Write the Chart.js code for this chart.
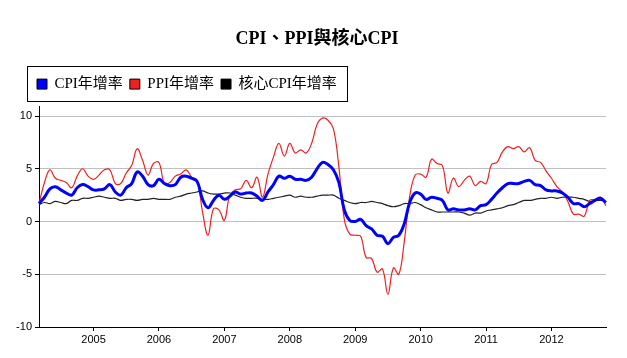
<!DOCTYPE html>
<html>
<head>
<meta charset="utf-8">
<script src="https://cdn.jsdelivr.net/npm/chart.js@4"></script>
<style>
  html, body { margin: 0; padding: 0; background: #fff; }
</style>
</head>
<body>
<canvas id="grafico" width="627" height="358"></canvas>
<script>
// meses de 2004-03 a 2012-11
var meses = [];
for (var a = 2004; a <= 2012; a++) {
    for (var m = 1; m <= 12; m++) {
        if (a === 2004 && m < 3) continue;
        if (a === 2012 && m > 11) continue;
        meses.push(a + '-' + (m < 10 ? '0' + m : m));
    }
}

// CPI年增率
var cpi = [
    1.7, 2.3, 3.1, 3.3, 3.0, 2.7, 2.5, 3.2, 3.5, 3.3,
    3.0, 3.0, 3.1, 3.5, 2.8, 2.5, 3.2, 3.6, 4.7, 4.3, 3.5, 3.4,
    4.0, 3.6, 3.4, 3.5, 4.2, 4.3, 4.1, 3.8, 2.1, 1.3, 2.0, 2.5,
    2.1, 2.4, 2.8, 2.6, 2.7, 2.7, 2.4, 2.0, 2.8, 3.5, 4.3, 4.1,
    4.3, 4.0, 4.0, 3.9, 4.2, 5.0, 5.6, 5.4, 4.9, 3.7, 1.1, 0.1,
    0.0, 0.2, -0.4, -0.7, -1.3, -1.4, -2.1, -1.5, -1.3, -0.2, 1.8, 2.7,
    2.6, 2.1, 2.3, 2.2, 2.0, 1.1, 1.2, 1.1, 1.1, 1.2, 1.1, 1.5,
    1.6, 2.1, 2.7, 3.2, 3.6, 3.6, 3.6, 3.8, 3.9, 3.5, 3.4, 3.0,
    2.9, 2.9, 2.7, 2.3, 1.7, 1.7, 1.4, 1.7, 2.0, 2.2, 1.8
];

// PPI年增率
var ppi = [
    1.7, 3.7, 4.9, 4.1, 3.9, 3.7, 3.2, 4.3, 5.0, 4.3,
    4.0, 4.4, 4.9, 4.9, 3.6, 3.6, 4.6, 5.3, 6.9, 5.8, 4.4, 5.5,
    5.6, 3.6, 3.7, 4.3, 4.5, 4.9, 4.2, 3.9, 0.9, -1.3, 1.2, 1.1,
    0.1, 2.5, 3.0, 3.1, 3.9, 3.2, 4.2, 2.3, 4.5, 6.1, 7.4, 6.2,
    7.4, 6.5, 6.8, 6.5, 7.4, 9.2, 9.8, 9.6, 8.8, 5.2, 0.2, -1.2,
    -1.3, -1.4, -3.4, -3.5, -4.8, -4.5, -6.9, -4.4, -5.0, -1.9, 2.4, 4.4,
    4.5, 4.2, 5.9, 5.5, 5.3, 2.7, 4.1, 3.3, 3.9, 4.3, 3.4, 3.8,
    3.6, 5.4, 5.6, 6.6, 7.1, 6.9, 7.1, 6.6, 7.0, 5.8, 5.6, 4.8,
    4.1, 3.3, 2.8, 1.9, 0.7, 0.7, 0.5, 2.0, 2.1, 2.3, 1.5
];

// 核心CPI年增率
var coreCpi = [
    1.6, 1.8, 1.7, 1.9, 1.8, 1.7, 2.0, 2.0, 2.2, 2.2,
    2.3, 2.4, 2.3, 2.2, 2.2, 2.0, 2.1, 2.1, 2.0, 2.1, 2.1, 2.2,
    2.1, 2.1, 2.1, 2.3, 2.4, 2.6, 2.7, 2.8, 2.9, 2.7, 2.6, 2.6,
    2.7, 2.7, 2.5, 2.3, 2.2, 2.2, 2.2, 2.1, 2.1, 2.2, 2.3, 2.4,
    2.5, 2.3, 2.4, 2.3, 2.3, 2.4, 2.5, 2.5, 2.5, 2.2, 2.0, 1.8,
    1.7, 1.8, 1.8, 1.9, 1.8, 1.7, 1.5, 1.4, 1.5, 1.7, 1.7, 1.8,
    1.6, 1.3, 1.1, 0.9, 0.9, 0.9, 0.9, 0.9, 0.8, 0.6, 0.8, 0.8,
    1.0, 1.1, 1.2, 1.3, 1.5, 1.6, 1.8, 2.0, 2.0, 2.1, 2.2, 2.2,
    2.3, 2.2, 2.3, 2.3, 2.3, 2.2, 2.1, 1.9, 2.0, 2.0, 1.9
];

// etiquetas de los ejes
var aniosEje = ['2005', '2006', '2007', '2008', '2009', '2010', '2011', '2012'];
var ticksY = [-10, -5, 0, 5, 10];

var fuenteSerif = "'Liberation Serif', 'Noto Sans CJK TC', serif";
var fuenteSans = "'Liberation Sans', Arial, sans-serif";

var padLeyenda = 7;

// coloca titulo y leyenda donde van y dibuja el marco de la leyenda
var marcoLeyenda = {
    id: 'marcoLeyenda',
    beforeDraw: function (chart) {
        var tit = chart.titleBlock;
        tit.left = 28;
        tit.right = 606;

        var ley = chart.legend;
        var ancho = ley.right - ley.left;
        var alto = ley.bottom - ley.top;
        ley.left = 30;
        ley.right = 30 + ancho;
        ley.top = 69.6;
        ley.bottom = 69.6 + alto;
    },
    afterDraw: function (chart) {
        var ley = chart.legend;
        var hb = ley.legendHitBoxes;
        if (!hb || !hb.length) return;
        var ultimo = hb[hb.length - 1];
        var izq = ley.left + padLeyenda - 10;
        var der = ley.left + (ultimo.left - hb[0].left) + padLeyenda + ultimo.width + 10;
        var arriba = ley.top + padLeyenda - 10.5;
        var alto = hb[0].height + 20;
        var ctx = chart.ctx;
        ctx.save();
        ctx.strokeStyle = '#000';
        ctx.lineWidth = 1;
        ctx.strokeRect(Math.round(izq) + 0.5, Math.round(arriba) + 0.5, Math.round(der - izq), Math.round(alto));
        ctx.restore();
    }
};

var ctx = document.getElementById('grafico').getContext('2d');
var grafico = new Chart(ctx, {
    type: 'line',
    data: {
        labels: meses,
        datasets: [{
            label: 'CPI年增率',
            data: cpi,
            borderColor: '#0000ff',
            backgroundColor: '#0000ff',
            borderWidth: 3
        }, {
            label: 'PPI年增率',
            data: ppi,
            borderColor: '#f02020',
            backgroundColor: '#f02020',
            borderWidth: 1.2
        }, {
            label: '核心CPI年增率',
            data: coreCpi,
            borderColor: '#222222',
            backgroundColor: '#000000',
            borderWidth: 1.2
        }]
    },
    options: {
        responsive: false,
        animation: false,
        elements: {
            point: { radius: 0 },
            line: { tension: 0.4 }
        },
        layout: {
            padding: { top: 0, left: 0, right: 21, bottom: 11 }
        },
        plugins: {
            title: {
                display: true,
                text: 'CPI、PPI與核心CPI',
                color: '#000',
                font: { family: fuenteSerif, size: 18, weight: 'bold' },
                padding: { top: 29, bottom: 23.4 }
            },
            legend: {
                position: 'top',
                align: 'start',
                labels: {
                    color: '#000',
                    font: { family: fuenteSerif, size: 15 },
                    boxWidth: 10,
                    boxHeight: 10,
                    padding: padLeyenda,
                    generateLabels: function (chart) {
                        return chart.data.datasets.map(function (ds, i) {
                            return {
                                text: ds.label,
                                fillStyle: ds.backgroundColor,
                                strokeStyle: '#000',
                                lineWidth: 1,
                                fontColor: '#000',
                                datasetIndex: i
                            };
                        });
                    }
                }
            },
            tooltip: { enabled: false }
        },
        scales: {
            x: {
                type: 'category',
                afterBuildTicks: function (escala) {
                    escala.ticks = aniosEje.map(function (an) {
                        return { value: meses.indexOf(an + '-01') };
                    });
                },
                afterFit: function (escala) { escala.height = 20; },
                ticks: {
                    autoSkip: false,
                    maxRotation: 0,
                    padding: 2,
                    color: '#000',
                    font: { family: fuenteSans, size: 11 },
                    callback: function (valor) { return meses[valor].slice(0, 4); }
                },
                grid: {
                    drawOnChartArea: false,
                    tickLength: 4,
                    color: '#000'
                },
                border: { color: '#000', width: 1 }
            },
            y: {
                min: -10,
                max: 10.95,
                afterBuildTicks: function (escala) {
                    escala.ticks = ticksY.map(function (v) { return { value: v }; });
                },
                afterFit: function (escala) { escala.width = 39; },
                ticks: {
                    padding: 3,
                    color: '#000',
                    font: { family: fuenteSans, size: 11 }
                },
                grid: {
                    color: '#c0c0c0',
                    tickColor: '#000',
                    tickLength: 4
                },
                border: { color: '#000', width: 1 }
            }
        }
    },
    plugins: [marcoLeyenda]
});
</script>
</body>
</html>
